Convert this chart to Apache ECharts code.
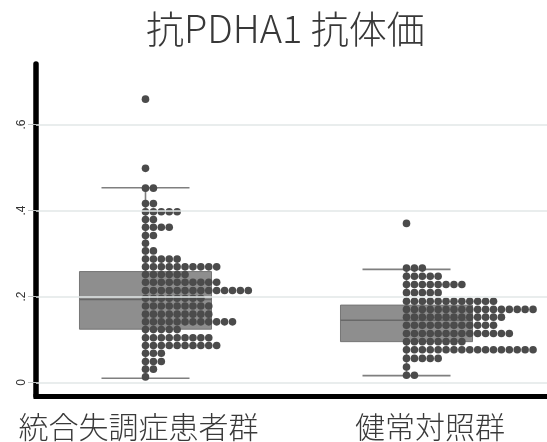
<!DOCTYPE html>
<html><head><meta charset="utf-8">
<script src="https://cdn.jsdelivr.net/npm/echarts@6/dist/echarts.min.js"></script>
<style>html,body{margin:0;padding:0;background:#fff}#c{width:547px;height:442px}</style>
</head><body><div id="c"></div>
<script>
// ---------- data ----------
const titleText = '抗PDHA1 抗体価';
const categories = ['統合失調症患者群', '健常対照群'];
const yTickValues = [0, 0.2, 0.4, 0.6];
const yTickLabels = ['0', '.2', '.4', '.6'];

// stacked dot rows: value of each row and number of dots in it
const g1RowValues = [0.013,0.031,0.049,0.068,0.086,0.104,0.123,0.141,0.159,0.178,0.196,0.214,0.233,0.251,0.269,0.287,0.306,0.324,0.342,0.361,0.379,0.397,0.416,0.452,0.498,0.659];
const g1RowCounts = [1,2,3,3,10,9,5,12,9,9,8,14,10,6,10,5,2,1,2,4,2,5,2,2,1,1];
const g2RowValues = [0.017,0.036,0.056,0.076,0.095,0.114,0.133,0.152,0.170,0.189,0.209,0.228,0.247,0.266,0.370];
const g2RowCounts = [2,1,5,17,8,14,12,13,17,12,5,8,5,3,1];

// box stats: [lower whisker, Q1, median, Q3, upper whisker]
const g1Box = [0.010, 0.124, 0.193, 0.258, 0.453];
const g2Box = [0.016, 0.095, 0.145, 0.180, 0.263];

// ---------- layout ----------
const groupPos = [1, 2];
const labelShift = [-0.027, 0.09];
const dotStep = 0.0303;
const boxHalf = 0.2529;
const capHalf = 0.1686;

const rows = [[g1RowValues, g1RowCounts], [g2RowValues, g2RowCounts]];
const dots = [];
rows.forEach(([vals, cnts], g) => {
  vals.forEach((v, r) => {
    for (let i = 0; i < cnts[r]; i++) dots.push([groupPos[g] + i * dotStep, v]);
  });
});
const boxData = [[groupPos[0]].concat(g1Box), [groupPos[1]].concat(g2Box)];
const labelPos = groupPos.map((p, i) => p + labelShift[i]);

const chart = echarts.init(document.getElementById('c'));
const whiskerStyle = { stroke: '#7f7f7f', lineWidth: 1.6 };
chart.setOption({
  animation: false,
  backgroundColor: '#fff',
  title: {
    text: titleText, left: 141, top: 5,
    textStyle: { fontSize: 38, fontWeight: 300, color: '#383838', fontFamily: 'Noto Sans CJK JP' }
  },
  grid: { left: 36, right: 0, top: 64, bottom: 46, containLabel: false },
  xAxis: {
    type: 'value', min: 0.5805, max: 2.5383,
    splitLine: { show: false }, axisTick: { show: false },
    axisLine: { show: true, onZero: false, lineStyle: { color: '#000', width: 5, cap: 'square' } },
    axisLabel: {
      customValues: labelPos, margin: 16,
      fontSize: 30, fontWeight: 300, color: '#3a3a3a', fontFamily: 'Noto Sans CJK JP',
      formatter: (v) => { const i = labelPos.findIndex(p => Math.abs(p - v) < 1e-6); return i >= 0 ? categories[i] : ''; }
    }
  },
  yAxis: {
    type: 'value', min: -0.0314, max: 0.7407,
    splitLine: { show: false },
    axisLine: { show: true, lineStyle: { color: '#000', width: 5.5 } },
    axisTick: { show: true, customValues: yTickValues, length: 8, lineStyle: { color: '#c0c4c4', width: 1 } },
    axisLabel: {
      customValues: yTickValues, rotate: 90, margin: 8, fontSize: 12, color: '#333',
      fontFamily: 'Liberation Sans',
      formatter: (v) => { const i = yTickValues.findIndex(t => Math.abs(t - v) < 1e-9); return i >= 0 ? yTickLabels[i] : ''; }
    }
  },
  series: [
    {
      type: 'scatter', data: [], z: 1, silent: true,
      markLine: {
        silent: true, symbol: ['none', 'none'], label: { show: false },
        lineStyle: { color: '#e2e7e7', width: 1.5, type: 'solid' },
        data: yTickValues.map(v => ({ yAxis: v }))
      }
    },
    {
      type: 'custom', z: 3, silent: true, data: boxData,
      renderItem: (params, api) => {
        const x = api.value(0);
        const yLo = api.coord([x, api.value(1)])[1];
        const yQ1 = api.coord([x, api.value(2)])[1];
        const yMed = api.coord([x, api.value(3)])[1];
        const yQ3 = api.coord([x, api.value(4)])[1];
        const yHi = api.coord([x, api.value(5)])[1];
        const cx = api.coord([x, 0])[0];
        const bl = api.coord([x - boxHalf, 0])[0];
        const br = api.coord([x + boxHalf, 0])[0];
        const cl = api.coord([x - capHalf, 0])[0];
        const cr = api.coord([x + capHalf, 0])[0];
        return {
          type: 'group', children: [
            { type: 'line', shape: { x1: cx, y1: yHi, x2: cx, y2: yQ3 }, style: whiskerStyle },
            { type: 'line', shape: { x1: cx, y1: yQ1, x2: cx, y2: yLo }, style: whiskerStyle },
            { type: 'rect', shape: { x: bl, y: yQ3, width: br - bl, height: yQ1 - yQ3 }, style: { fill: '#8e8e8e', stroke: '#767676', lineWidth: 1 } },
            { type: 'line', shape: { x1: bl, y1: yMed, x2: br, y2: yMed }, style: { stroke: '#686868', lineWidth: 1.5 } },
            { type: 'line', shape: { x1: cl, y1: yHi, x2: cr, y2: yHi }, style: whiskerStyle },
            { type: 'line', shape: { x1: cl, y1: yLo, x2: cr, y2: yLo }, style: whiskerStyle }
          ]
        };
      }
    },
    {
      type: 'scatter', z: 4, silent: true, data: dots,
      symbol: 'circle', symbolSize: 7.6,
      itemStyle: { color: '#4b4b4b', opacity: 1 }
    }
  ]
});
</script></body></html>
